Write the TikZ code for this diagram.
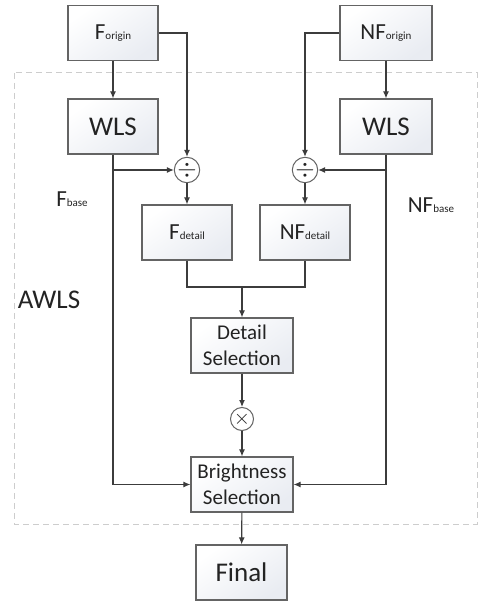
\documentclass[tikz,border=0pt]{standalone}
\usepackage{fontspec}
\setmainfont{Carlito}
\usetikzlibrary{arrows.meta}
\definecolor{boxgray}{RGB}{233,236,242}
\definecolor{edgegray}{RGB}{100,100,100}
\definecolor{linegray}{RGB}{60,60,60}
\definecolor{txt}{RGB}{35,35,35}
\definecolor{dashgray}{RGB}{205,205,205}
\newcommand{\sub}[1]{{\fontsize{11}{11}\selectfont #1}}
\tikzset{
  blk/.style={draw=edgegray, line width=1.2pt, top color=white, bottom color=boxgray,
    shading angle=35, minimum width=90pt, minimum height=55pt, inner sep=0pt,
    text=txt, align=center},
  wide/.style={blk, minimum width=102pt, font=\fontsize{21}{26}\selectfont},
  big/.style={font=\fontsize{27}{30}\selectfont},
  mid/.style={font=\fontsize{23}{24}\selectfont},
  op/.style={draw=edgegray, line width=1pt, circle, fill=white, minimum size=23pt,
    inner sep=0pt, text=txt},
  conn/.style={draw=linegray, line width=1.1pt},
  arr/.style={conn, -{Latex[length=7pt,width=6pt]}},
  lab/.style={text=txt}
}
\begin{document}
\begin{tikzpicture}[x=1pt,y=-1pt]
\useasboundingbox (0,0) rectangle (479,601);

% dashed frame of the AWLS stage
\draw[dashgray, line width=1pt, dash pattern=on 6pt off 4pt] (14,73) rectangle (477,524);

% inputs
\node[blk, mid] (fo)  at (113,33) {F\sub{origin}};
\node[blk, mid, minimum width=92pt] (nfo) at (386,33) {NF\sub{origin}};

% smoothing
\node[blk, big] (wlsL) at (113,126.5) {WLS};
\node[blk, big, minimum width=92pt] (wlsR) at (386,126.5) {WLS};

% division
\node[op] (divL) at (187,170) {\fontsize{26}{26}\selectfont$\div$};
\node[op] (divR) at (305,170) {\fontsize{26}{26}\selectfont$\div$};

% detail layers
\node[blk, mid] (fd)  at (187,232.5) {F\sub{detail}};
\node[blk, mid] (nfd) at (305,232.5) {NF\sub{detail}};

% selection stages
\node[wide] (ds) at (242,345.5) {Detail\\Selection};
\node[op] (mul) at (242,419) {\fontsize{20}{20}\selectfont$\times$};
\node[wide] (bs) at (242,484.5) {Brightness\\Selection};
\node[blk, big, minimum width=91pt] (fin) at (241.5,572.5) {Final};

% labels
\node[lab, mid] (fbase) at (72,199) {F\sub{base}};
\node[lab, mid] (nfbase) at (431,205) {NF\sub{base}};
\node[lab, big] (awls) at (49,300) {AWLS};

% junction of the two detail layers
\coordinate (jm) at (242,287);

% connectors
\draw[arr] (fo) -- (wlsL);
\draw[arr] (nfo) -- (wlsR);
\draw[arr] (fo.east) -| (divL.north);
\draw[arr] (nfo.west) -| (divR.north);
\draw[arr] (wlsL.south) |- (divL.west);
\draw[arr] (wlsR.south) |- (divR.east);
\draw[arr] (wlsL.south) |- (bs.west);
\draw[arr] (wlsR.south) |- (bs.east);
\draw[arr] (divL) -- (fd);
\draw[arr] (divR) -- (nfd);
\draw[conn] (fd.south) |- (jm) -| (nfd.south);
\draw[arr] (jm) -- (ds);
\draw[arr] (ds) -- (mul);
\draw[arr] (mul) -- (bs);
\draw[arr] (bs) -- (fin);
\end{tikzpicture}
\end{document}
